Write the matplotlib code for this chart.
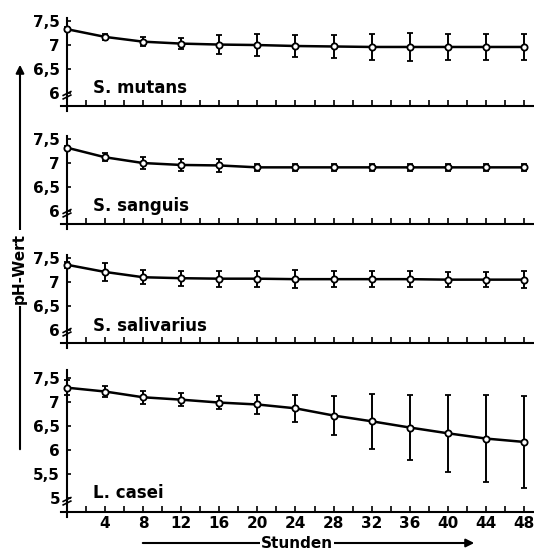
import numpy as np
import matplotlib.pyplot as plt
from matplotlib.patches import FancyArrowPatch

# time points (hours)
hours = [0, 4, 8, 12, 16, 20, 24, 28, 32, 36, 40, 44, 48]

# mean pH and spread per strain
mutans_ph = [7.32, 7.16, 7.06, 7.02, 7.00, 6.99, 6.97, 6.96, 6.95, 6.95, 6.95, 6.95, 6.95]
mutans_err = [0.04, 0.06, 0.10, 0.12, 0.20, 0.22, 0.22, 0.24, 0.28, 0.29, 0.28, 0.27, 0.27]

sanguis_ph = [7.31, 7.11, 6.99, 6.95, 6.94, 6.90, 6.90, 6.90, 6.90, 6.90, 6.90, 6.90, 6.90]
sanguis_err = [0.03, 0.08, 0.12, 0.12, 0.13, 0.07, 0.08, 0.07, 0.07, 0.07, 0.08, 0.07, 0.08]

salivarius_ph = [7.35, 7.20, 7.09, 7.07, 7.06, 7.06, 7.05, 7.05, 7.05, 7.05, 7.04, 7.04, 7.04]
salivarius_err = [0.06, 0.18, 0.15, 0.16, 0.17, 0.17, 0.19, 0.17, 0.17, 0.17, 0.16, 0.16, 0.17]

casei_ph = [7.30, 7.22, 7.10, 7.05, 6.99, 6.95, 6.87, 6.72, 6.60, 6.47, 6.35, 6.24, 6.17]
casei_err = [0.15, 0.12, 0.13, 0.13, 0.14, 0.19, 0.28, 0.41, 0.57, 0.68, 0.80, 0.90, 0.96]

names = ["S. mutans", "S. sanguis", "S. salivarius", "L. casei"]
yticks_short = [6, 6.5, 7, 7.5]
yticks_long = [5, 5.5, 6, 6.5, 7, 7.5]

W, H = 534, 551
plt.rcParams['font.family'] = 'DejaVu Sans'
plt.rcParams['font.weight'] = 'bold'
fig = plt.figure(figsize=(W / 100, H / 100), dpi=100)

def px(x, y):
    return x / W, 1 - y / H

unit = 48.0      # pixels per pH unit
hpx_unit = 9.52  # pixels per hour
x_lo = -6 / hpx_unit
x_hi = 49
left = (67 + x_lo * hpx_unit) / W
width = (x_hi - x_lo) * hpx_unit / W
below = 5 / unit  # y axis runs a little past the x axis

panels = [
    (mutans_ph, mutans_err, 106, (5.72, 7.56), yticks_short, 6.0),
    (sanguis_ph, sanguis_err, 224, (5.72, 7.56), yticks_short, 6.0),
    (salivarius_ph, salivarius_err, 343, (5.72, 7.56), yticks_short, 5.97),
    (casei_ph, casei_err, 512, (4.71, 7.66), yticks_long, 5.0),
]

for i, (ph, err, ybot, ylim, yt, ytext) in enumerate(panels):
    y0, y1 = ylim[0] - below, ylim[1]
    hpx = (y1 - y0) * unit
    ax = fig.add_axes([left, 1 - (ybot + 5) / H, width, hpx / H])
    ax.errorbar(hours, ph, yerr=err, color='black', lw=1.8, elinewidth=1.4,
                capsize=2.5, capthick=1.4, marker='o', ms=4.5, mfc='white',
                mec='black', mew=1.3, zorder=3)
    ax.set_xlim(x_lo, x_hi)
    ax.set_ylim(y0, y1)
    for s in ['top', 'right']:
        ax.spines[s].set_visible(False)
    ax.spines['left'].set_position(('data', 0))
    ax.spines['bottom'].set_position(('data', ylim[0]))
    for s in ['left', 'bottom']:
        ax.spines[s].set_linewidth(1.5)
    ax.set_yticks(yt)
    ax.set_yticklabels([str(v).replace('.', ',').replace(',0', '') for v in yt],
                       fontsize=11, fontweight='bold')
    ax.set_xticks(np.arange(2, 49, 2))
    if i == 3:
        ax.set_xticklabels([str(int(v)) if v % 4 == 0 else '' for v in np.arange(2, 49, 2)],
                           fontsize=11, fontweight='bold')
    else:
        ax.set_xticklabels([])
    ax.tick_params(axis='both', direction='in', length=4, width=1.2, pad=3)
    ax.tick_params(axis='y', length=3, pad=5)
    ax.text(2.7, ytext, names[i], fontsize=12, fontweight='bold', va='baseline')
    # axis break on the y axis
    yb = ylim[0] + 9 / unit
    for dy in (0.0, 3.5 / unit):
        ax.plot([-0.4, 0.4], [yb + dy - 0.04, yb + dy + 0.04],
                color='black', lw=1.2, clip_on=False)

# y label with arrow
fig.add_artist(FancyArrowPatch(
    px(20, 452), px(20, 62), arrowstyle='-|>', mutation_scale=12,
    color='black', lw=1.5, transform=fig.transFigure))
fig.text(*px(19, 268), "pH-Wert", rotation=90, ha='center', va='center',
         fontsize=11, fontweight='bold',
         bbox=dict(facecolor='white', edgecolor='none', pad=2))

# x label with arrow
fig.add_artist(FancyArrowPatch(
    px(140, 543), px(477, 543), arrowstyle='-|>', mutation_scale=12,
    color='black', lw=1.5, transform=fig.transFigure))
fig.text(*px(297, 543), "Stunden", ha='center', va='center',
         fontsize=11, fontweight='bold',
         bbox=dict(facecolor='white', edgecolor='none', pad=1))

fig.savefig("out.png", dpi=100)
